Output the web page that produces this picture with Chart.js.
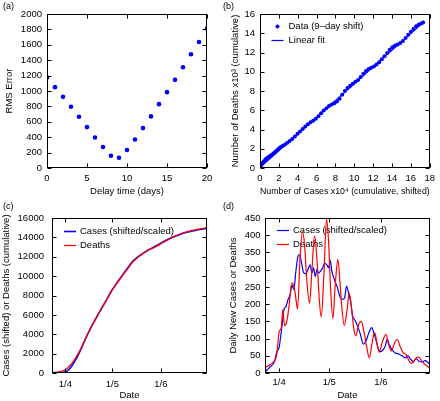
<!DOCTYPE html>
<html><head><meta charset="utf-8">
<script src="https://cdn.jsdelivr.net/npm/chart.js@4.4.1/dist/chart.umd.min.js"></script>
<style>
html,body{margin:0;padding:0;background:#fff;}
#wrap{position:relative;width:440px;height:401px;overflow:hidden;background:#fff;}
canvas{position:absolute;}
</style></head><body>
<div id="wrap">
<canvas id="ca" width="220" height="200" style="left:0;top:0;width:220px;height:200px"></canvas>
<canvas id="cb" width="220" height="200" style="left:220px;top:0;width:220px;height:200px"></canvas>
<canvas id="cc" width="220" height="201" style="left:0;top:200px;width:220px;height:201px"></canvas>
<canvas id="cd" width="220" height="201" style="left:220px;top:200px;width:220px;height:201px"></canvas>
</div>
<script>
// ---------- Panel (a): RMS error vs delay ----------
const aDelay = [0,1,2,3,4,5,6,7,8,9,10,11,12,13,14,15,16,17,18,19,20];
const aRms = [1175,1050,924,795,665,531,397,272,160,134,233,371,518,670,829,985,1145,1309,1477,1637,1810];

// ---------- Panel (b): cumulative deaths (x10^3) vs shifted cases (x10^4) ----------
const bCases = [0,0.05,0.1,0.18,0.28,0.4,0.52,0.65,0.8,0.95,1.1,1.28,1.45,1.62,1.8,2.0,2.2,2.42,2.65,2.9,3.15,3.42,3.7,3.98,4.25,4.52,4.8,5.08,5.36,5.64,5.92,6.2,6.48,6.76,7.04,7.32,7.6,7.88,8.16,8.44,8.72,9.0,9.28,9.56,9.84,10.12,10.4,10.68,10.96,11.24,11.52,11.8,12.08,12.36,12.64,12.92,13.2,13.48,13.76,14.04,14.32,14.6,14.88,15.16,15.44,15.72,16.0,16.28,16.56,16.84,17.1,17.3];
const bDeaths = [0,0.15,0.3,0.42,0.55,0.68,0.8,0.95,1.07,1.18,1.28,1.4,1.52,1.68,1.85,2.02,2.18,2.3,2.45,2.62,2.8,3.02,3.28,3.55,3.8,4.05,4.3,4.55,4.75,4.92,5.12,5.38,5.68,5.98,6.22,6.45,6.6,6.72,6.9,7.2,7.6,8.0,8.32,8.55,8.75,8.95,9.15,9.45,9.8,10.08,10.28,10.42,10.55,10.75,11.0,11.3,11.62,11.95,12.28,12.55,12.72,12.82,12.98,13.2,13.5,13.85,14.15,14.45,14.72,14.9,15.02,15.12];
const bFitX = [0, 17.3];
const bFitY = [0.05, 15.1];

// ---------- Date axis (days from 1 April) ----------
const dateTickDays = [0, 30, 61];
const dateTickLabels = ['1/4', '1/5', '1/6'];

// ---------- Panel (c): cumulative ----------
const cDays = [-8.5,-5,-2,0,2,4,6,8,10,12,14,16,18,20,22,24,26,28,30,32,34,36,38,40,42,44,46,48,50,53,56,59,62,65,68,71,74,77,80,83,86,90.4];
const cCases = [0,15,50,110,330,700,1200,1800,2450,3200,3900,4580,5180,5780,6360,6920,7480,8050,8620,9080,9550,10000,10450,10880,11320,11680,11950,12180,12400,12700,12950,13230,13500,13750,13980,14180,14360,14500,14620,14720,14820,14930];
const cDeaths = [30,100,200,320,620,950,1400,1950,2550,3250,3950,4600,5200,5800,6350,6900,7450,8000,8600,9050,9500,9950,10400,10800,11250,11600,11900,12150,12400,12700,12900,13150,13450,13700,14000,14200,14400,14550,14680,14780,14880,15000];

// ---------- Panel (d): daily ----------
const dCaseDays = [-8.5,-5.4,-2.8,-1.4,0,1.2,2.2,3,4,5.2,6.6,7.6,8.8,10,11.2,12.2,13.2,14.6,16,17.6,18.6,19.6,20.6,21.6,22.6,23.6,24.8,26,27.2,28.6,29.6,30.6,31.6,33.2,34.8,36.4,38,39.2,40.4,41.6,42.8,44,45.6,47.2,48.8,50.4,52,53.6,55.4,56.8,58,59.2,60.6,62,63.6,64.8,66,67.6,69.6,71.6,73.6,75.6,77.2,78.8,80.4,82,83.6,85.6,87.6,89.6,90.4];
const dCaseVals = [3,18,33,62,75,118,158,186,192,212,228,255,243,295,338,344,325,292,288,305,314,290,305,280,300,290,296,305,318,314,305,327,295,270,250,222,214,218,252,232,208,166,152,134,110,84,92,115,132,116,96,73,62,66,78,98,82,68,58,55,50,44,50,40,33,42,35,32,36,28,24];
const dDeathDays = [-8.5,-5.4,-2.8,-1.4,0,1.2,2.2,3.2,4.6,6,7.6,8.6,9.6,11,12.6,14,15.2,16.6,18.2,19.6,21.2,22.6,24,25.2,26.8,28.4,29.6,30.8,32.2,33.6,35.2,36.4,37.6,39,40.6,42,43.6,44.8,46,47.6,49.2,50.8,52.4,54,55.6,57.2,58.6,60,61.6,64,65.6,67.2,69.2,70.8,72.4,74.4,76,78,79.6,82,83.6,85.6,87.6,90.4];
const dDeathVals = [16,24,36,55,120,130,184,138,150,198,262,256,232,186,344,410,373,266,203,295,398,334,217,162,285,447,383,247,158,256,330,266,188,138,180,232,178,125,108,140,150,120,77,44,85,117,88,60,86,112,82,64,88,98,78,58,54,34,28,43,46,34,24,14];

const FONT = '"Liberation Sans", Arial, Helvetica, sans-serif';
const FS = 9.5;
Chart.defaults.font.family = FONT;
Chart.defaults.font.size = FS;
Chart.defaults.font.weight = 'normal';
Chart.defaults.color = '#000';
Chart.defaults.animation = false;

const BLUE = '#0000ff', RED = '#ff0000';

const pairs = (xs, ys) => xs.map((x, i) => ({x: x, y: ys[i]}));

// plot frame with inward ticks on all four sides
const frameTicks = {
  id: 'frameTicks',
  afterDraw(chart) {
    const {ctx, chartArea: a} = chart;
    const xs = chart.scales.x, ys = chart.scales.y;
    const L = Math.round(a.left) + 0.5, R = Math.round(a.right) - 0.5;
    const T = Math.round(a.top) + 0.5, B = Math.round(a.bottom) - 0.5;
    const len = 4;
    ctx.save();
    ctx.strokeStyle = '#000';
    ctx.lineWidth = 1;
    ctx.strokeRect(L, T, R - L, B - T);
    ctx.beginPath();
    xs.ticks.forEach(t => {
      const p = Math.round(xs.getPixelForValue(t.value)) + 0.5;
      ctx.moveTo(p, B); ctx.lineTo(p, B - len);
      ctx.moveTo(p, T); ctx.lineTo(p, T + len);
    });
    ys.ticks.forEach(t => {
      const p = Math.round(ys.getPixelForValue(t.value)) + 0.5;
      ctx.moveTo(L, p); ctx.lineTo(L + len, p);
      ctx.moveTo(R, p); ctx.lineTo(R - len, p);
    });
    ctx.stroke();
    ctx.restore();
  }
};

// legend drawn inside the plot area, beneath the data
const inLegend = {
  id: 'inLegend',
  beforeDatasetsDraw(chart, args, o) {
    if (!o || !o.show) return;
    const {ctx, chartArea: a} = chart;
    ctx.save();
    ctx.font = FS + 'px ' + FONT;
    ctx.textBaseline = 'middle';
    ctx.textAlign = 'left';
    chart.data.datasets.forEach((ds, i) => {
      const y = Math.round(a.top + o.y + i * o.dy) + 0.5;
      const mx = a.left + o.mx;
      if (ds.legendKind === 'dot') {
        ctx.fillStyle = ds.backgroundColor;
        ctx.beginPath(); ctx.arc(mx, y, o.r, 0, Math.PI * 2); ctx.fill();
      } else {
        ctx.strokeStyle = ds.borderColor;
        ctx.lineWidth = Math.max(1.2, ds.borderWidth);
        ctx.beginPath(); ctx.moveTo(mx - o.half, y); ctx.lineTo(mx + o.half, y); ctx.stroke();
      }
      ctx.fillStyle = '#000';
      ctx.fillText(ds.label, a.left + o.tx, y);
    });
    ctx.restore();
  }
};

function scales(o) {
  const x = {
    type: 'linear', min: o.xmin, max: o.xmax,
    afterFit(s) { s.height = o.xh; },
    grid: {display: false, drawTicks: false}, border: {display: false},
    ticks: {padding: o.xtp, maxRotation: 0, autoSkip: false, stepSize: o.xstep, callback: o.xcb || (v => String(v))},
    title: {display: true, text: o.xtitle, padding: {top: 0, bottom: o.xtb}}
  };
  if (o.dateAxis) {
    x.afterBuildTicks = s => { s.ticks = dateTickDays.map(v => ({value: v})); };
  }
  const y = {
    type: 'linear', min: o.ymin, max: o.ymax,
    afterFit(s) { s.width = o.yw; },
    grid: {display: false, drawTicks: false}, border: {display: false},
    ticks: {padding: o.ytp, stepSize: o.ystep, autoSkip: false, callback: v => String(v)},
    title: {display: true, text: o.ytitle, padding: {top: o.ytt, bottom: 0}}
  };
  return {x, y};
}

function basePlugins(label, titleBottom, leg) {
  return {
    legend: {display: false},
    tooltip: {enabled: false},
    title: {display: true, text: label, align: 'start', font: {size: 9, weight: 'normal', lineHeight: 1.2}, padding: {top: 0, bottom: titleBottom}},
    inLegend: leg || {show: false}
  };
}

// (a)
new Chart(document.getElementById('ca'), {
  type: 'scatter',
  data: {datasets: [{label: 'RMS Error', data: pairs(aDelay, aRms), backgroundColor: BLUE, borderColor: BLUE, pointRadius: 2.3, pointBorderWidth: 0}]},
  options: {
    responsive: false, events: [],
    layout: {padding: {left: 3, top: 1, right: 13, bottom: 0}},
    plugins: basePlugins('(a)', 2.2),
    scales: scales({xmin: 0, xmax: 20, xstep: 5, xh: 32, xtp: 5, xtitle: 'Delay time (days)', xtb: 3.2,
                    ymin: 0, ymax: 2000, ystep: 200, yw: 44, ytp: 5, ytitle: 'RMS Error', ytt: 0.6})
  },
  plugins: [frameTicks, inLegend]
});

// (b)
new Chart(document.getElementById('cb'), {
  type: 'scatter',
  data: {datasets: [
    {label: 'Data (9\u2013day shift)', legendKind: 'dot', data: pairs(bCases, bDeaths), backgroundColor: BLUE, borderColor: BLUE, pointRadius: 2, pointBorderWidth: 0, order: 1},
    {label: 'Linear fit', legendKind: 'line', data: pairs(bFitX, bFitY), showLine: true, borderColor: BLUE, backgroundColor: BLUE, borderWidth: 1.2, pointRadius: 0, order: 2}
  ]},
  options: {
    responsive: false, events: [],
    layout: {padding: {left: 3, top: 1, right: 10, bottom: 0}},
    plugins: basePlugins('(b)', 2.2, {show: true, mx: 17.5, half: 6, r: 2, tx: 28.5, y: 12, dy: 13.5}),
    scales: scales({xmin: 0, xmax: 18, xstep: 2, xh: 32, xtp: 5, xtitle: 'Number of Cases x10\u2074 (cumulative, shifted)', xtb: 2.8,
                    ymin: 0, ymax: 16, ystep: 2, yw: 37, ytp: 5, ytitle: 'Number of Deaths x10\u00b3 (cumulative)', ytt: 6.3})
  },
  plugins: [frameTicks, inLegend]
});

const dateCb = v => { const i = dateTickDays.indexOf(v); return i >= 0 ? dateTickLabels[i] : ''; };

// (c)
new Chart(document.getElementById('cc'), {
  type: 'scatter',
  data: {datasets: [
    {label: 'Cases (shifted/scaled)', legendKind: 'line', data: pairs(cDays, cCases), showLine: true, borderColor: BLUE, borderWidth: 1.6, pointRadius: 0, cubicInterpolationMode: 'monotone', order: 2},
    {label: 'Deaths', legendKind: 'line', data: pairs(cDays, cDeaths), showLine: true, borderColor: RED, borderWidth: 1.3, pointRadius: 0, cubicInterpolationMode: 'monotone', order: 1}
  ]},
  options: {
    responsive: false, events: [],
    layout: {padding: {left: 3, top: 1, right: 13, bottom: 0}},
    plugins: basePlugins('(c)', 6.2, {show: true, mx: 18, half: 6, r: 2, tx: 28, y: 13, dy: 13.5}),
    scales: scales({xmin: -8.5, xmax: 90.4, dateAxis: true, xcb: dateCb, xh: 28, xtp: 5.5, xtitle: 'Date', xtb: 0,
                    ymin: 0, ymax: 16000, ystep: 2000, yw: 49, ytp: 8, ytitle: 'Cases (shifted) or Deaths (cumulative)', ytt: -2.3})
  },
  plugins: [frameTicks, inLegend]
});

// (d)
new Chart(document.getElementById('cd'), {
  type: 'scatter',
  data: {datasets: [
    {label: 'Cases (shifted/scaled)', legendKind: 'line', data: pairs(dCaseDays, dCaseVals), showLine: true, borderColor: BLUE, borderWidth: 1.2, pointRadius: 0, cubicInterpolationMode: 'monotone', order: 2},
    {label: 'Deaths', legendKind: 'line', data: pairs(dDeathDays, dDeathVals), showLine: true, borderColor: RED, borderWidth: 1.2, pointRadius: 0, cubicInterpolationMode: 'monotone', order: 1}
  ]},
  options: {
    responsive: false, events: [],
    layout: {padding: {left: 3, top: 1, right: 10, bottom: 0}},
    plugins: basePlugins('(d)', 6.2, {show: true, mx: 18, half: 6, r: 2, tx: 28, y: 12, dy: 14}),
    scales: scales({xmin: -8.5, xmax: 90.4, dateAxis: true, xcb: dateCb, xh: 28, xtp: 4, xtitle: 'Date', xtb: 0,
                    ymin: 0, ymax: 450, ystep: 50, yw: 42, ytp: 4.5, ytitle: 'Daily New Cases or Deaths', ytt: 4.6})
  },
  plugins: [frameTicks, inLegend]
});
</script>
</body></html>
